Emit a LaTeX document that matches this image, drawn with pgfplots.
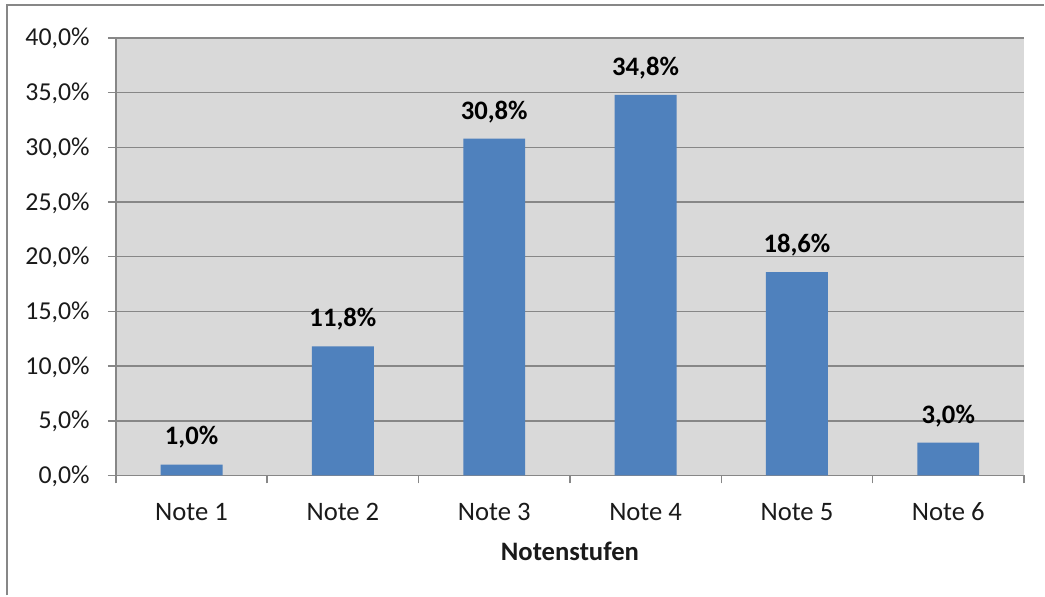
\documentclass[border=0pt]{standalone}
\usepackage{pgfplots}
\pgfplotsset{compat=1.18}
\usepackage{fontspec}
\setmainfont{Carlito}
\definecolor{barblue}{HTML}{4F81BD}
\definecolor{plotbg}{HTML}{D9D9D9}
\definecolor{linegray}{HTML}{878787}
\definecolor{txt}{HTML}{1A1A1A}
\begin{document}
\begin{tikzpicture}
% canvas and outer frame
\path (0,0) rectangle (627pt,357.6pt);
\draw[linegray, line width=1.3pt] (4.2pt,0) -- (4.2pt,354.6pt) -- (627pt,354.6pt);
\begin{axis}[
  at={(69.6pt,72pt)}, anchor=south west,
  scale only axis, width=545.4pt, height=262.8pt,
  font=\fontsize{16}{19}\selectfont\color{txt},
  /pgf/number format/assume math mode=true,
  ybar, bar width=37.2pt,
  xmin=-0.5, xmax=5.5, ymin=0, ymax=40,
  xtick={0,...,5},
  xticklabels={Note 1,Note 2,Note 3,Note 4,Note 5,Note 6},
  major x tick style={draw=none},
  minor xtick={-0.5,0.5,...,5.5},
  minor tick length=4.8pt,
  minor x tick style={linegray, line width=0.9pt},
  ytick={0,5,...,40},
  yticklabel={\pgfmathprintnumber[fixed,fixed zerofill,precision=1,use comma]{\tick}\%},
  major tick length=4.8pt,
  tick align=outside,
  y tick style={linegray, line width=0.9pt},
  ymajorgrids,
  grid style={linegray, line width=0.9pt},
  axis x line*=bottom, axis y line*=left,
  axis line style={-, linegray, line width=0.9pt},
  axis background/.style={fill=plotbg},
  yticklabel style={anchor=base east, inner sep=0pt, xshift=-10.8pt, yshift=-4.8pt, font=\fontsize{15.5}{18}\selectfont\color{txt}},
  xticklabel style={anchor=base, inner sep=0pt, yshift=-22.2pt},
  xlabel={\textbf{Notenstufen}},
  xlabel style={at={(axis description cs:0.5,0)}, anchor=base, inner sep=0pt, yshift=-51pt},
  nodes near coords={\textbf{\pgfmathprintnumber[fixed,fixed zerofill,precision=1,use comma]{\pgfplotspointmeta}\%}},
  nodes near coords style={anchor=center, inner sep=0pt, yshift=16.2pt, font=\fontsize{16}{19}\selectfont\color{black}},
]
\addplot[fill=barblue, draw=none] coordinates {(0,1.0) (1,11.8) (2,30.8) (3,34.8) (4,18.6) (5,3.0)};
\end{axis}
\end{tikzpicture}
\end{document}
